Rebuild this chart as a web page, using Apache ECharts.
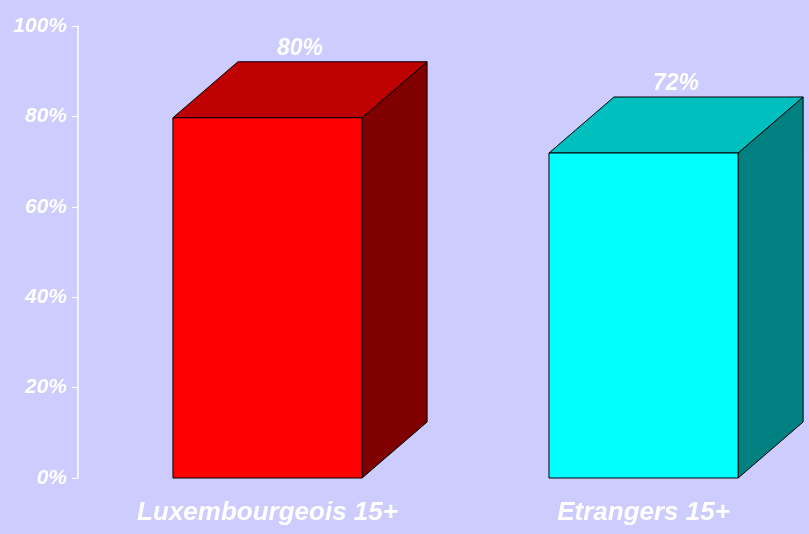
<!DOCTYPE html>
<html>
<head>
<meta charset="utf-8">
<script src="https://cdn.jsdelivr.net/npm/echarts@6/dist/echarts.min.js"></script>
<style>
html,body{margin:0;padding:0;background:#CCCCFF;}
#main{width:809px;height:534px;}
</style>
</head>
<body>
<div id="main"></div>
<script>
var categories = ['Luxembourgeois 15+', 'Etrangers 15+'];
var values = [79.7, 71.9];
var frontColors = ['#FF0000', '#00FFFF'];
var topColors = ['#BE0000', '#00BFBF'];
var sideColors = ['#800000', '#008080'];
var yTicks = [0, 20, 40, 60, 80, 100];

var DX = 65, DY = 56;
var FONT = 'Liberation Sans, Arial, sans-serif';

var chart = echarts.init(document.getElementById('main'));

function renderItem(params, api) {
  var idx = api.value(0);
  var v = api.value(1);
  var top = api.coord([idx, v]);
  var base = api.coord([idx, 0]);
  var band = api.size([1, 0])[0];
  var w = band * 0.503;
  var x0 = top[0] - w / 2, x1 = top[0] + w / 2;
  var yt = top[1], yb = base[1];
  var stroke = {stroke: '#000', lineWidth: 1};
  return {
    type: 'group',
    children: [
      {type: 'polygon', shape: {points: [[x1, yt], [x1 + DX, yt - DY], [x1 + DX, yb - DY], [x1, yb]]},
        style: Object.assign({fill: sideColors[idx]}, stroke)},
      {type: 'polygon', shape: {points: [[x0, yt], [x0 + DX, yt - DY], [x1 + DX, yt - DY], [x1, yt]]},
        style: Object.assign({fill: topColors[idx]}, stroke)},
      {type: 'rect', shape: {x: x0, y: yt, width: w, height: yb - yt},
        style: Object.assign({fill: frontColors[idx]}, stroke)},
      {type: 'text', x: top[0] + DX / 2, y: yt - DY - 13,
        style: {text: Math.round(v) + '%', fill: '#fff', font: 'italic bold 23px ' + FONT,
          align: 'center', verticalAlign: 'middle'}},
      {type: 'text', x: top[0], y: yb + 35,
        style: {text: categories[idx], fill: '#fff', font: 'italic bold 26px ' + FONT,
          align: 'center', verticalAlign: 'middle'}}
    ]
  };
}

chart.setOption({
  backgroundColor: '#CCCCFF',
  animation: false,
  grid: {left: 78, right: 0, top: 26, bottom: 56},
  xAxis: {
    type: 'value',
    min: -0.504, max: 1.44,
    show: false
  },
  yAxis: {
    type: 'value',
    min: 0, max: 100, interval: 20,
    position: 'left',
    axisLine: {show: true, onZero: false, lineStyle: {color: '#fff', width: 1.5}},
    axisTick: {show: true, length: 6, lineStyle: {color: '#fff', width: 1}},
    splitLine: {show: false},
    axisLabel: {color: '#fff', fontSize: 21, fontWeight: 'bold', fontStyle: 'italic',
      fontFamily: FONT, margin: 11,
      formatter: function (v) { return yTicks.indexOf(v) >= 0 ? v + '%' : ''; }}
  },
  series: [{
    type: 'custom',
    renderItem: renderItem,
    data: values.map(function (v, i) { return [i, v]; }),
    clip: false
  }]
});
</script>
</body>
</html>
